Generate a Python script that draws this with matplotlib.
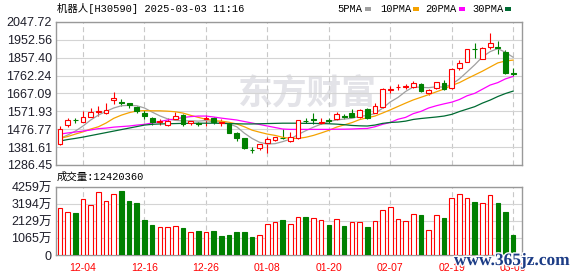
import matplotlib
matplotlib.use("Agg")
import matplotlib.pyplot as plt
import matplotlib.patheffects as pe
from matplotlib.patches import Rectangle
import numpy as np

# ---- data (prices in points, volume in 万) ----
tick_idx = [3, 11, 19, 27, 35, 43, 51, 59]
tick_labels = ["12-04", "12-16", "12-26", "01-08", "01-20", "02-07", "02-19", "03-03"]

opens = [1398, 1497, 1527, 1518, 1543, 1570, 1561, 1632, 1621, 1614,
         1596, 1564, 1538, 1516, 1499, 1529, 1552, 1508, 1510, 1531,
         1538, 1508, 1503, 1458, 1430, 1367, 1375, 1401, 1417, 1432,
         1412, 1428, 1523, 1530, 1508, 1524, 1529, 1545, 1561, 1543,
         1582, 1564, 1593, 1687, 1700, 1701, 1703, 1715, 1668, 1694,
         1721, 1694, 1804, 1836, 1905, 1853, 1915, 1912, 1887, 1775]
highs = [1494, 1535, 1538, 1573, 1591, 1600, 1614, 1673, 1636, 1615,
         1600, 1579, 1543, 1529, 1535, 1567, 1558, 1522, 1516, 1552,
         1543, 1530, 1505, 1463, 1432, 1384, 1398, 1435, 1438, 1478,
         1463, 1527, 1535, 1561, 1534, 1538, 1567, 1556, 1582, 1584,
         1591, 1614, 1694, 1708, 1717, 1717, 1735, 1722, 1690, 1730,
         1737, 1804, 1845, 1905, 1934, 1912, 1987, 1945, 1897, 1804]
lows = [1394, 1490, 1511, 1516, 1541, 1548, 1560, 1609, 1600, 1588,
        1564, 1533, 1499, 1499, 1495, 1526, 1494, 1502, 1495, 1494,
        1507, 1496, 1455, 1416, 1370, 1352, 1366, 1350, 1414, 1425,
        1410, 1426, 1508, 1504, 1507, 1508, 1525, 1529, 1541, 1535,
        1533, 1561, 1590, 1668, 1686, 1690, 1694, 1676, 1659, 1691,
        1685, 1692, 1792, 1833, 1857, 1851, 1903, 1880, 1772, 1761]
closes = [1478, 1526, 1524, 1541, 1567, 1573, 1577, 1641, 1618, 1604,
          1572, 1547, 1513, 1519, 1522, 1548, 1504, 1520, 1507, 1535,
          1513, 1513, 1458, 1432, 1375, 1365, 1396, 1423, 1437, 1430,
          1434, 1526, 1521, 1528, 1516, 1520, 1558, 1543, 1543, 1579,
          1535, 1600, 1690, 1692, 1703, 1705, 1721, 1678, 1685, 1726,
          1690, 1800, 1827, 1903, 1902, 1910, 1934, 1909, 1777, 1772]

ma5 = [1428, 1446, 1467, 1494, 1526, 1552, 1572, 1590, 1602, 1604,
       1602, 1590, 1568, 1548, 1532, 1524, 1521, 1522, 1520, 1523,
       1516, 1517, 1506, 1490, 1456, 1428, 1407, 1398, 1400, 1411,
       1424, 1449, 1469, 1488, 1504, 1518, 1526, 1531, 1535, 1546,
       1550, 1560, 1589, 1622, 1646, 1678, 1702, 1700, 1698, 1703,
       1701, 1716, 1745, 1782, 1820, 1862, 1890, 1906, 1886, 1860]
ma10 = [1428, 1438, 1451, 1463, 1478, 1490, 1510, 1535, 1552, 1565,
        1574, 1576, 1575, 1575, 1573, 1570, 1563, 1551, 1540, 1530,
        1523, 1520, 1514, 1505, 1490, 1472, 1461, 1451, 1444, 1434,
        1428, 1428, 1434, 1444, 1457, 1471, 1488, 1500, 1512, 1528,
        1538, 1547, 1563, 1580, 1598, 1616, 1633, 1647, 1661, 1676,
        1691, 1710, 1725, 1746, 1766, 1786, 1808, 1830, 1840, 1845]
ma20 = [1451, 1457, 1462, 1467, 1473, 1480, 1483, 1488, 1491, 1494,
        1499, 1503, 1510, 1518, 1526, 1531, 1539, 1544, 1547, 1547,
        1542, 1536, 1531, 1526, 1518, 1510, 1502, 1494, 1486, 1478,
        1476, 1476, 1476, 1476, 1476, 1476, 1477, 1477, 1478, 1480,
        1481, 1490, 1503, 1513, 1530, 1540, 1560, 1572, 1590, 1602,
        1612, 1621, 1635, 1655, 1668, 1690, 1712, 1725, 1745, 1758]
ma30 = [1414, 1422, 1428, 1435, 1443, 1451, 1459, 1467, 1475, 1483,
        1491, 1499, 1503, 1505, 1506, 1507, 1508, 1508, 1509, 1509,
        1509, 1508, 1507, 1506, 1505, 1505, 1506, 1507, 1508, 1509,
        1509, 1509, 1508, 1508, 1507, 1506, 1504, 1501, 1497, 1495,
        1494, 1499, 1508, 1513, 1515, 1520, 1529, 1534, 1538, 1542,
        1547, 1556, 1571, 1584, 1597, 1616, 1632, 1651, 1667, 1680]

volume = [2923, 2672, 2629, 3487, 3130, 3963, 3362, 3819, 4006, 3380,
          3255, 2191, 1878, 1734, 1734, 1797, 1690, 1440, 1502, 1440,
          1502, 1189, 1252, 1440, 1440, 1127, 1231, 1920, 2045, 2170,
          1920, 2358, 2377, 2295, 2170, 1878, 2233, 1815, 2065, 2065,
          1752, 2120, 2817, 2984, 2233, 2128, 2567, 2504, 1565, 2504,
          2316, 3548, 3819, 3548, 3318, 3235, 3756, 3235, 2692, 1242]
vol_up = "RRGRRRRRGGGGGRRRGRGRGGGGGGRRRGRRGRRGRGRRGRRRRRRGRRGRRRGRRGGG"

price_ticks = [1286.45, 1381.61, 1476.77, 1571.93, 1667.09,
               1762.24, 1857.40, 1952.56, 2047.72]
vol_ticks = [0, 1065, 2129, 3194, 4259]
last_volume = 12420360

RED = "#ff0000"
GREEN = "#008000"
MA_COLORS = {"5PMA": "#a0a0a0", "10PMA": "#f5a200", "20PMA": "#ff00ff", "30PMA": "#006b33"}
EDGE = "#999999"
GRID = "#d4d4d4"

W, H = 578, 276
fig = plt.figure(figsize=(W / 100, H / 100), dpi=100)
fig.patch.set_facecolor("white")


def box(l, t, r, b):
    return [l / W, 1 - b / H, (r - l) / W, (b - t) / H]


ax = fig.add_axes(box(56, 22, 522, 165))
axv = fig.add_axes(box(56, 187, 522, 255))

x = np.arange(len(closes))
o = np.array(opens, float)
c = np.array(closes, float)
up = c >= o
cols = np.where(up, RED, GREEN)

# watermark behind the marks
ax.text(307 / W, 1 - 93 / H, "东方财富", transform=fig.transFigure, ha="center", va="center",
        fontsize=25, fontweight="bold", color="#e3e3e8", family="Noto Sans CJK SC", zorder=0.5)

# candles
ax.vlines(x, lows, highs, colors=cols, lw=0.8, zorder=2)
for name, vals in zip(MA_COLORS, [ma5, ma10, ma20, ma30]):
    ax.plot(x, vals, color=MA_COLORS[name], lw=0.9, zorder=2.5)
ax.bar(x, np.maximum(np.abs(c - o), 0.5), bottom=np.minimum(o, c), width=0.62,
       facecolor=np.where(up, "white", GREEN), edgecolor=cols, lw=0.8, zorder=3)

# volume
vcols = [RED if f == "R" else GREEN for f in vol_up]
vface = ["white" if f == "R" else GREEN for f in vol_up]
axv.bar(x, volume, width=0.6, facecolor=vface, edgecolor=vcols, lw=0.8, zorder=3)

for a in (ax, axv):
    a.set_xlim(-0.52, 60.15)
    a.set_xticks(tick_idx)
    a.grid(axis="x", color="#c8c8c8", lw=0.8, ls=(0, (4.5, 3)))
    a.grid(axis="y", color=GRID, lw=0.8, ls="-")
    a.set_axisbelow(True)
    for s in a.spines.values():
        s.set_color(EDGE)
        s.set_linewidth(1)
    a.tick_params(length=0)

ax.set_ylim(price_ticks[0], price_ticks[-1])
ax.set_yticks(price_ticks)
ax.set_yticklabels([f"{v:.2f}" for v in price_ticks], family="Liberation Sans",
                   fontsize=9, color="#1e1e2a")
ax.tick_params(axis="y", pad=3)
ax.tick_params(axis="x", labelbottom=False)

axv.set_ylim(0, vol_ticks[-1])
axv.set_yticks(vol_ticks)
axv.set_yticklabels([f"{v}万" if v else "0" for v in vol_ticks],
                    family=["Liberation Sans", "Noto Sans CJK SC"], fontsize=9, color="#1e1e2a")
axv.tick_params(axis="y", pad=3)
axv.set_xticklabels(tick_labels, family="Liberation Sans", fontsize=7.5, color=RED)
axv.tick_params(axis="x", pad=6)

mono = ["Liberation Mono", "Noto Sans CJK SC"]
fig.text(57 / W, 1 - 8.5 / H, "机器人[H30590] 2025-03-03 11:16", family=mono,
         fontsize=7.5, va="center", ha="left", color="black")
fig.text(57 / W, 1 - 177 / H, f"成交量:{last_volume}", family=mono,
         fontsize=7.5, va="center", ha="left", color="black")

# MA legend
leg_x = [337, 380, 425, 472]
sw_x = [365, 413, 459, 505]
for (name, col), lx, sx in zip(MA_COLORS.items(), leg_x, sw_x):
    fig.text(lx / W, 1 - 8.5 / H, name, family=mono, fontsize=7.5, va="center", ha="left")
    fig.patches.append(Rectangle((sx / W, 1 - 10.5 / H), 6 / W, 4 / H, transform=fig.transFigure,
                                 facecolor=col, edgecolor="none"))

fig.text(512 / W, 1 - 261 / H, "www.365jz.com", family="Liberation Serif", fontsize=12.5,
         fontweight="bold", color="#1c3c86", ha="center", va="center",
         path_effects=[pe.withStroke(linewidth=2, foreground="white")])

fig.savefig("out.png", dpi=100)
